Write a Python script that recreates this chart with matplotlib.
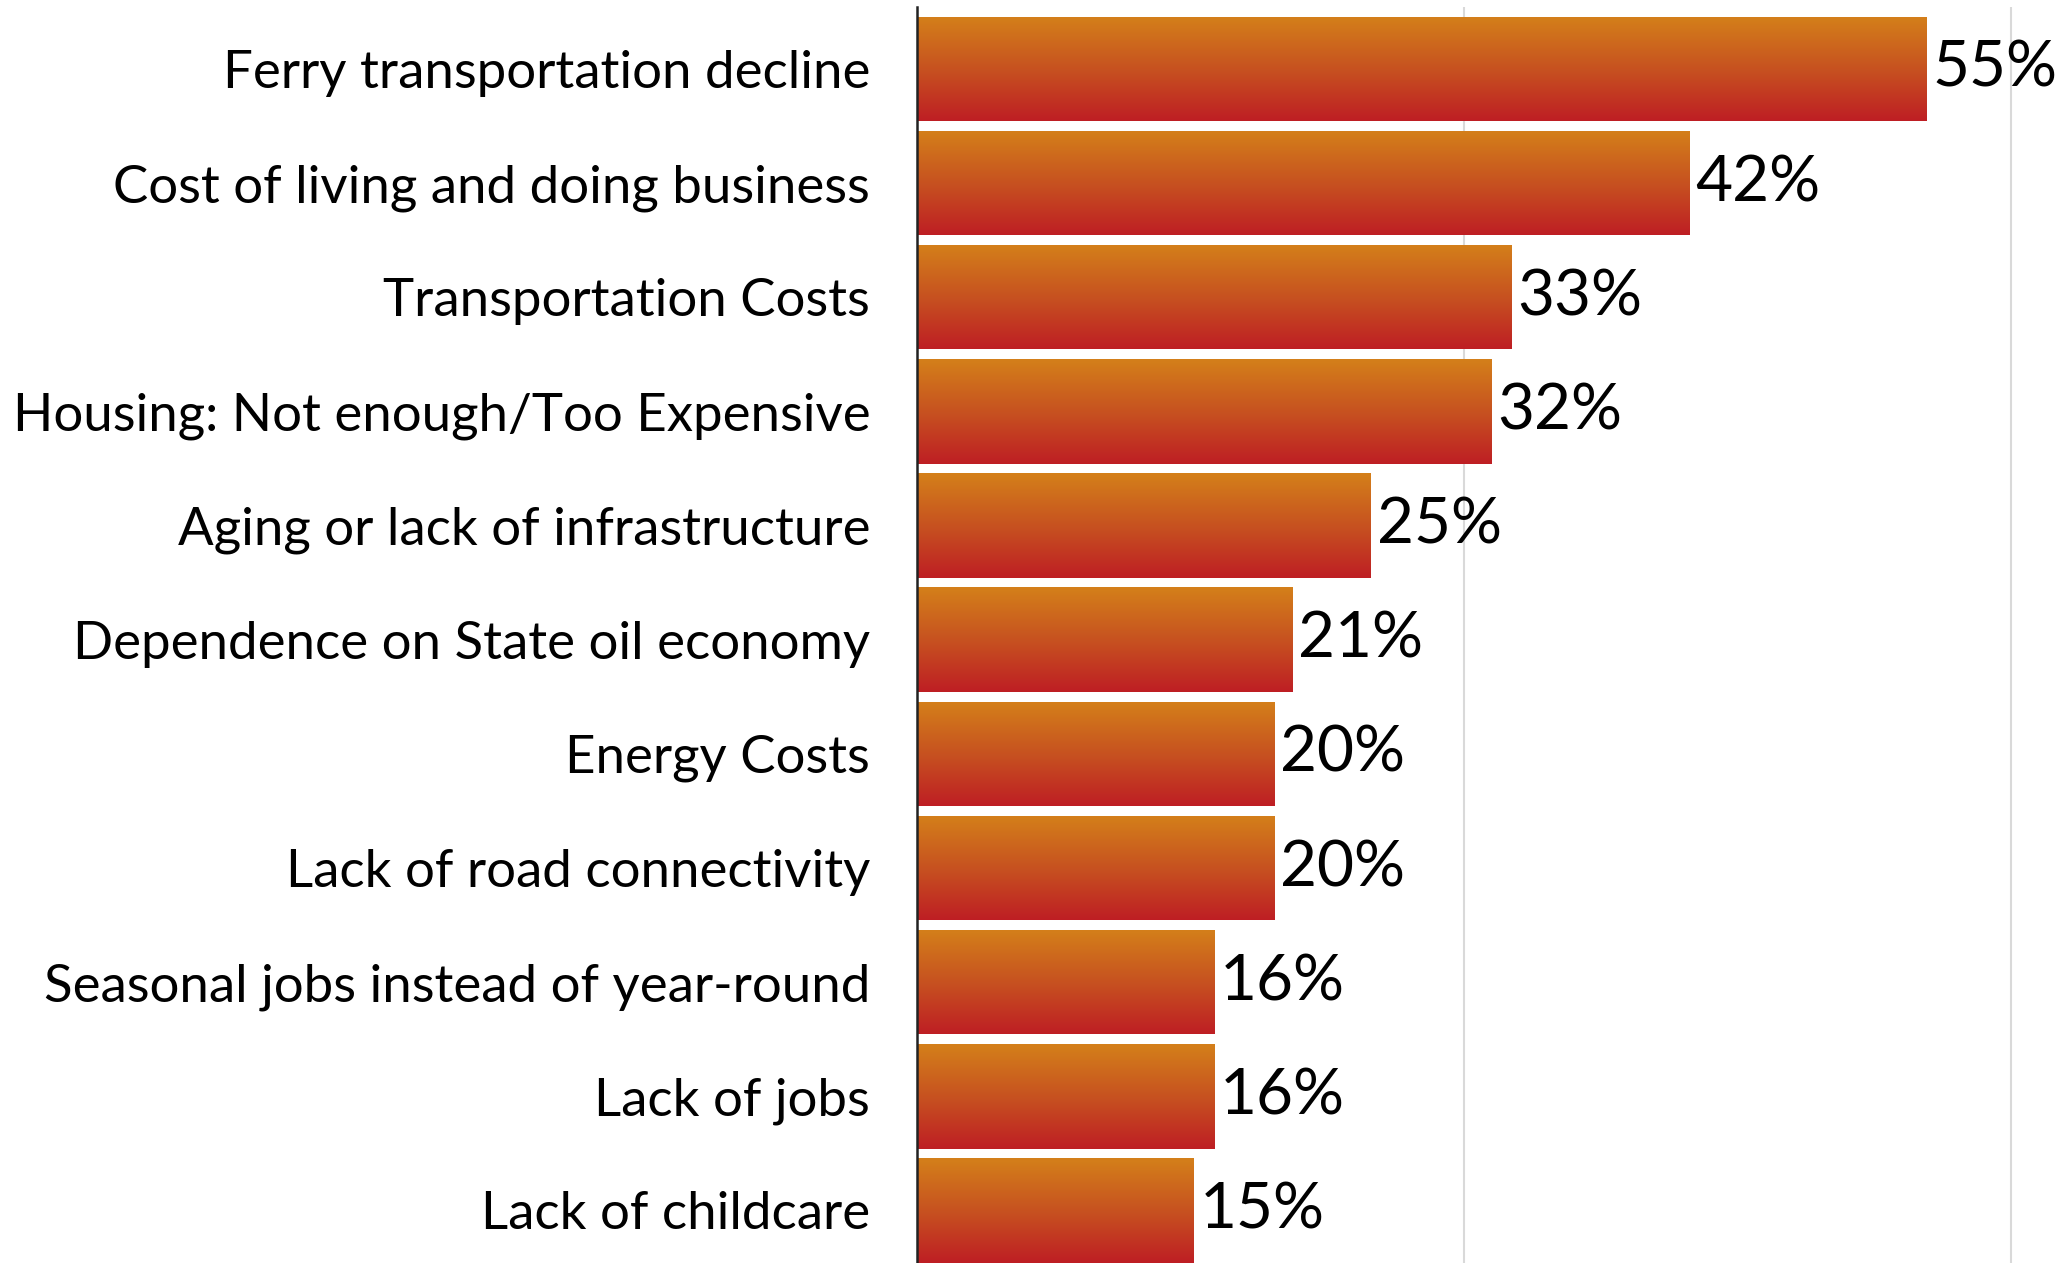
"""
Horizontal bar chart of community challenges with orange-to-red gradient bars.
"""

import numpy as np
import matplotlib.pyplot as plt
from matplotlib.colors import LinearSegmentedColormap

categories = [
    "Ferry transportation decline",
    "Cost of living and doing business",
    "Transportation Costs",
    "Housing: Not enough/Too Expensive",
    "Aging or lack of infrastructure",
    "Dependence on State oil economy",
    "Energy Costs",
    "Lack of road connectivity",
    "Seasonal jobs instead of year-round",
    "Lack of jobs",
    "Lack of childcare",
]
values = [55.4, 42.4, 32.6, 31.5, 24.9, 20.6, 19.6, 19.6, 16.3, 16.3, 15.2]
value_labels = ["55%", "42%", "33%", "32%", "25%", "21%", "20%", "20%", "16%", "16%", "15%"]
grid_ticks = [30, 60]

plt.rcParams["font.family"] = ["Lato", "DejaVu Sans"]

fig = plt.figure(figsize=(20.71, 12.63), dpi=100)
ax = fig.add_axes([0.4430, 0.0, 0.5570, 0.9945])

y = np.arange(len(categories))
bars = ax.barh(y, values, height=0.915, color="none", edgecolor="none", zorder=2)

# vertical gradient, orange at top, red at bottom
cmap = LinearSegmentedColormap.from_list("orange_red", ["#d4801a", "#c75220", "#be1e24"])
grad = np.linspace(0, 1, 256).reshape(-1, 1)
for bar in bars:
    x0, y0 = bar.get_x(), bar.get_y()
    w, h = bar.get_width(), bar.get_height()
    im = ax.imshow(grad, cmap=cmap, aspect="auto", interpolation="bilinear",
                   extent=[x0, x0 + w, y0 + h, y0], zorder=2)
    im.set_clip_path(bar)

for bar, lab in zip(bars, value_labels):
    ax.text(bar.get_width() + 0.3, bar.get_y() + bar.get_height() / 2, lab,
            va="center", ha="left", fontsize=46, color="black", zorder=3)

ax.set_xlim(0, 63.3)
ax.set_ylim(10.46, -0.543)
ax.set_yticks(y)
ax.set_yticklabels(categories, fontsize=38)
ax.tick_params(axis="y", length=0, pad=34)
ax.set_xticks(grid_ticks)
ax.tick_params(axis="x", length=0, labelbottom=False)
ax.grid(axis="x", color="#d9d9d9", linewidth=1.5, zorder=0)
ax.set_axisbelow(True)

for side in ["top", "right", "bottom"]:
    ax.spines[side].set_visible(False)
ax.spines["left"].set_linewidth(1.8)
ax.spines["left"].set_color("#222222")
ax.spines["left"].set_zorder(4)

fig.savefig("out.png", dpi=100)
